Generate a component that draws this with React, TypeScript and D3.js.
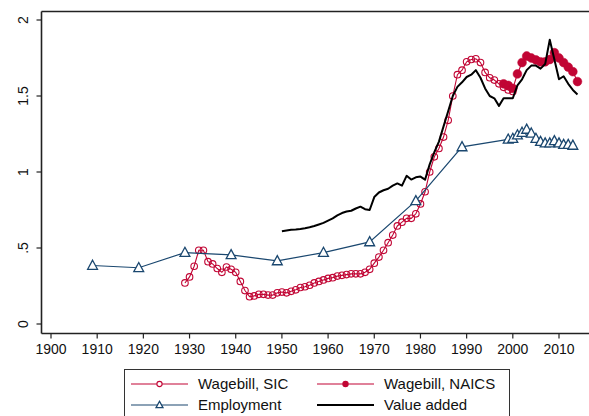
import React from "react";
import * as d3 from "d3";

const sicStart = 1929;
const wagebillSIC = [
  0.27, 0.31, 0.38, 0.485, 0.485, 0.41, 0.395, 0.365, 0.34, 0.375, 0.36, 0.34, 0.28, 0.22, 0.18, 0.185, 0.195,
  0.195, 0.19, 0.19, 0.205, 0.21, 0.205, 0.215, 0.225, 0.24, 0.245, 0.255, 0.27, 0.28, 0.29, 0.3, 0.305, 0.315,
  0.32, 0.325, 0.33, 0.33, 0.33, 0.34, 0.36, 0.4, 0.44, 0.485, 0.535, 0.585, 0.645, 0.67, 0.695, 0.695, 0.725,
  0.79, 0.87, 1.0, 1.1, 1.155, 1.23, 1.34, 1.5, 1.64, 1.67, 1.725, 1.74, 1.745, 1.72, 1.655, 1.62, 1.605, 1.58,
  1.557, 1.54, 1.53,
];

const naicsStart = 1998;
const wagebillNAICS = [
  1.58, 1.57, 1.55, 1.645, 1.72, 1.763, 1.75, 1.737, 1.725, 1.725, 1.74, 1.785, 1.75, 1.72, 1.69, 1.66, 1.595,
];

const employmentYears = [
  1909, 1919, 1929, 1939, 1949, 1959, 1969, 1979, 1989, 1999, 2000, 2001, 2002, 2003, 2004, 2005, 2006, 2007,
  2008, 2009, 2010, 2011, 2012, 2013,
];
const employment = [
  0.385, 0.37, 0.47, 0.455, 0.415, 0.47, 0.54, 0.81, 1.165, 1.215, 1.22, 1.243, 1.26, 1.28, 1.255, 1.22, 1.2,
  1.19, 1.19, 1.205, 1.19, 1.18, 1.18, 1.175,
];

const vaStart = 1950;
const valueAdded = [
  0.61, 0.615, 0.62, 0.622, 0.625, 0.63, 0.636, 0.645, 0.655, 0.665, 0.68, 0.695, 0.715, 0.73, 0.74, 0.745, 0.76,
  0.772, 0.755, 0.75, 0.835, 0.865, 0.88, 0.89, 0.91, 0.925, 0.91, 0.975, 0.95, 0.965, 0.97, 0.95, 1.05, 1.13,
  1.2, 1.3, 1.4, 1.5, 1.56, 1.59, 1.625, 1.64, 1.67, 1.62, 1.55, 1.5, 1.485, 1.435, 1.485, 1.485, 1.485, 1.57,
  1.61, 1.67, 1.7, 1.7, 1.68, 1.71, 1.87, 1.74, 1.61, 1.63, 1.58, 1.54, 1.51,
];

const xTicks = [1900, 1910, 1920, 1930, 1940, 1950, 1960, 1970, 1980, 1990, 2000, 2010];
const yTicks = [0, 0.5, 1, 1.5, 2];
const yTickLabels = ["0", ".5", "1", "1.5", "2"];
const legendLabels = ["Wagebill, SIC", "Wagebill, NAICS", "Employment", "Value added"];

const RED = "#c10534";
const BLUE = "#1a476f";
const FONT = "'Liberation Sans', Arial, Helvetica, sans-serif";

type Pt = [number, number];

export default function App() {
  const W = 589;
  const H = 416;
  const x = d3.scaleLinear().domain([1900, 2010]).range([51, 559]);
  const y = d3.scaleLinear().domain([0, 2]).range([324, 20]);
  const left = 41.5;
  const right = 600;
  const top = 11.5;
  const bottom = 333.5;

  const sicPts: Pt[] = wagebillSIC.map((v, i) => [sicStart + i, v]);
  const naicsPts: Pt[] = wagebillNAICS.map((v, i) => [naicsStart + i, v]);
  const empPts: Pt[] = employment.map((v, i) => [employmentYears[i], v]);
  const vaPts: Pt[] = valueAdded.map((v, i) => [vaStart + i, v]);

  const line = d3
    .line<Pt>()
    .x((d) => x(d[0]))
    .y((d) => y(d[1]));

  const tri = (cx: number, cy: number, s: number) =>
    `M${cx},${cy - s * 0.62} L${cx + s * 0.58},${cy + s * 0.45} L${cx - s * 0.58},${cy + s * 0.45} Z`;

  const lg = { x1a: 131, x2a: 188, x1b: 317, x2b: 374, ty1: 384, ty2: 405 };

  return (
    <svg
      width={W}
      height={H}
      style={{ position: "absolute", left: 0, top: 0, background: "#fff" }}
      fontFamily={FONT}
    >
      <rect x={0} y={0} width={W} height={H} fill="#fff" />
      {/* frame */}
      <line x1={left} x2={right} y1={top} y2={top} stroke="#222" strokeWidth={1.3} />
      <line x1={left} x2={left} y1={top} y2={bottom} stroke="#222" strokeWidth={1.6} />
      <line x1={left} x2={right} y1={bottom} y2={bottom} stroke="#222" strokeWidth={1.6} />

      {/* y ticks */}
      {yTicks.map((t, i) => (
        <g key={"y" + t}>
          <line x1={left - 5} x2={left} y1={y(t)} y2={y(t)} stroke="#222" strokeWidth={1.2} />
          <text
            transform={`translate(${28},${y(t)}) rotate(-90)`}
            textAnchor="middle"
            fontSize={14}
            fill="#111"
          >
            {yTickLabels[i]}
          </text>
        </g>
      ))}

      {/* x ticks */}
      {xTicks.map((t) => (
        <g key={"x" + t}>
          <line x1={x(t)} x2={x(t)} y1={bottom} y2={bottom + 5} stroke="#222" strokeWidth={1.2} />
          <text x={x(t)} y={354} textAnchor="middle" fontSize={14} fill="#111">
            {t}
          </text>
        </g>
      ))}

      {/* Wagebill SIC */}
      <path d={line(sicPts) || ""} fill="none" stroke={RED} strokeWidth={1.1} />
      {sicPts.map((d) => (
        <circle key={"s" + d[0]} cx={x(d[0])} cy={y(d[1])} r={3.3} fill="none" stroke={RED} strokeWidth={1.1} />
      ))}

      {/* Wagebill NAICS */}
      <path d={line(naicsPts) || ""} fill="none" stroke={RED} strokeWidth={1.1} />
      {naicsPts.map((d) => (
        <circle key={"n" + d[0]} cx={x(d[0])} cy={y(d[1])} r={4.4} fill={RED} stroke={RED} strokeWidth={0.5} />
      ))}

      {/* Employment */}
      <path d={line(empPts) || ""} fill="none" stroke={BLUE} strokeWidth={1.2} />
      {empPts.map((d) => (
        <path key={"e" + d[0]} d={tri(x(d[0]), y(d[1]), 8.5)} fill="#fff" stroke={BLUE} strokeWidth={1.3} />
      ))}

      {/* Value added */}
      <path d={line(vaPts) || ""} fill="none" stroke="#000" strokeWidth={2} strokeLinejoin="round" />

      {/* legend */}
      <rect x={124.5} y={369.5} width={385} height={60} fill="#fff" stroke="#333" strokeWidth={1} />
      <line x1={lg.x1a} x2={lg.x2a} y1={lg.ty1} y2={lg.ty1} stroke={RED} strokeWidth={1.1} />
      <circle cx={(lg.x1a + lg.x2a) / 2} cy={lg.ty1} r={2.6} fill="#fff" stroke={RED} strokeWidth={1.1} />
      <text x={198} y={lg.ty1 + 5} fontSize={15} fill="#111">
        {legendLabels[0]}
      </text>
      <line x1={lg.x1b} x2={lg.x2b} y1={lg.ty1} y2={lg.ty1} stroke={RED} strokeWidth={1.1} />
      <circle cx={(lg.x1b + lg.x2b) / 2} cy={lg.ty1} r={3.2} fill={RED} />
      <text x={384} y={lg.ty1 + 5} fontSize={15} fill="#111">
        {legendLabels[1]}
      </text>
      <line x1={lg.x1a} x2={lg.x2a} y1={lg.ty2} y2={lg.ty2} stroke={BLUE} strokeWidth={1.2} />
      <path d={tri((lg.x1a + lg.x2a) / 2, lg.ty2, 6)} fill="#fff" stroke={BLUE} strokeWidth={1.3} />
      <text x={198} y={lg.ty2 + 5} fontSize={15} fill="#111">
        {legendLabels[2]}
      </text>
      <line x1={lg.x1b} x2={lg.x2b} y1={lg.ty2} y2={lg.ty2} stroke="#000" strokeWidth={2} />
      <text x={384} y={lg.ty2 + 5} fontSize={15} fill="#111">
        {legendLabels[3]}
      </text>
    </svg>
  );
}
